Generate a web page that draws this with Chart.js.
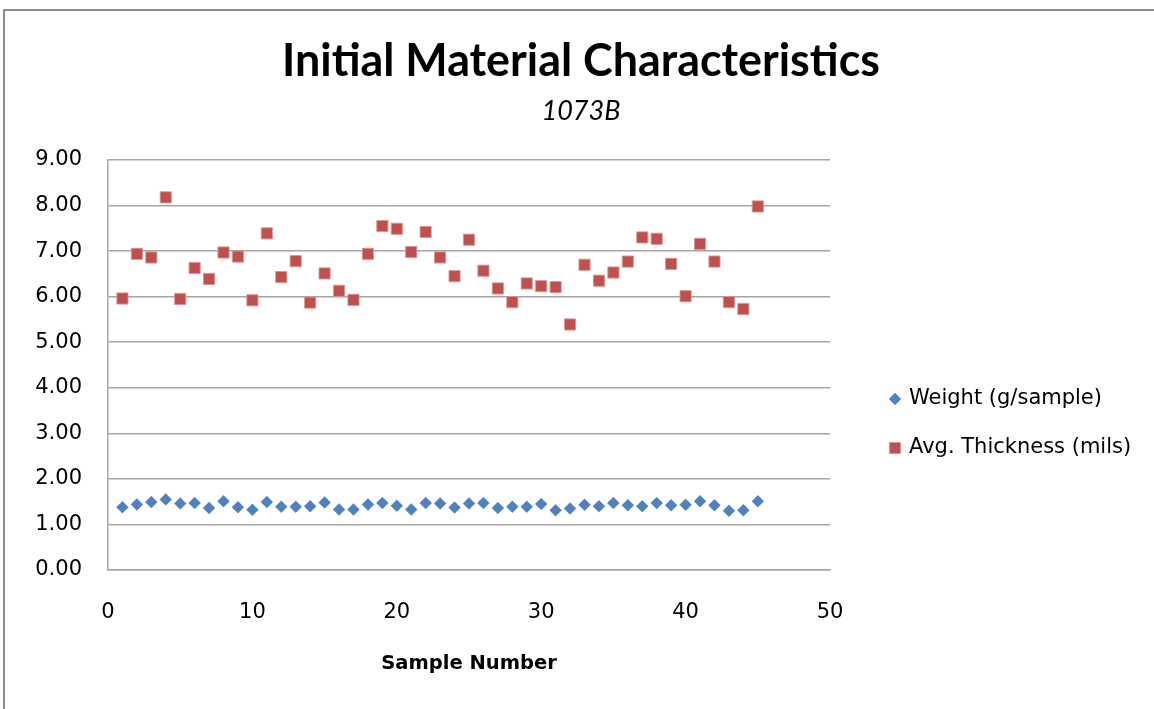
<!DOCTYPE html>
<html>
<head>
<meta charset="utf-8">
<script src="https://cdn.jsdelivr.net/npm/chart.js@4.4.1/dist/chart.umd.min.js"></script>
<style>
  html, body { margin: 0; padding: 0; background: #ffffff; overflow: hidden; }
  #wrap { position: relative; width: 1154px; height: 709px; background: #fff; }
  #frame { position: absolute; left: 3px; top: 9px; width: 1300px; height: 900px; border: 2px solid #8c8c8c; box-sizing: border-box; }
  canvas { position: absolute; left: 0; top: 0; }
</style>
</head>
<body>
<div id="wrap">
  <div id="frame"></div>
  <canvas id="c" width="1154" height="709"></canvas>
</div>
<script>
const chartTitle = 'Initial Material Characteristics';
const chartSubtitle = '1073B';
const xAxisTitle = 'Sample Number';
const seriesNames = ['Weight (g/sample)', 'Avg. Thickness (mils)'];

const sampleNumbers = [1,2,3,4,5,6,7,8,9,10,11,12,13,14,15,16,17,18,19,20,21,22,23,24,25,26,27,28,29,30,31,32,33,34,35,36,37,38,39,40,41,42,43,44,45];
const weightValues = [1.38,1.44,1.49,1.55,1.46,1.47,1.36,1.51,1.38,1.32,1.49,1.39,1.39,1.40,1.48,1.33,1.33,1.44,1.47,1.41,1.33,1.47,1.46,1.37,1.46,1.47,1.36,1.39,1.39,1.45,1.31,1.35,1.43,1.40,1.47,1.42,1.40,1.47,1.42,1.43,1.51,1.42,1.30,1.31,1.51];
const thicknessValues = [5.96,6.94,6.86,8.18,5.95,6.63,6.39,6.97,6.88,5.92,7.39,6.43,6.78,5.87,6.51,6.13,5.93,6.94,7.55,7.49,6.98,7.42,6.86,6.45,7.25,6.57,6.18,5.88,6.29,6.23,6.21,5.39,6.70,6.35,6.53,6.77,7.30,7.27,6.72,6.01,7.16,6.77,5.88,5.73,7.98];

const xTickValues = [0,10,20,30,40,50];
const yTickValues = [0,1,2,3,4,5,6,7,8,9];

const blue = '#4F81BD';
const red = '#C0504D';

const weightPoints = sampleNumbers.map((x, i) => ({ x: x, y: weightValues[i] }));
const thicknessPoints = sampleNumbers.map((x, i) => ({ x: x, y: thicknessValues[i] }));

const titlePlugin = {
  id: 'excelTitle',
  afterDraw(chart) {
    const ctx = chart.ctx;
    ctx.save();
    ctx.fillStyle = '#000';
    ctx.textAlign = 'center';
    ctx.textBaseline = 'alphabetic';
    ctx.font = 'bold 45px Lato';
    ctx.fillText(chartTitle, 581, 76, 598);
    ctx.font = 'italic 27px Lato';
    ctx.fillText(chartSubtitle, 581, 120, 82);
    ctx.restore();
  }
};

const legendPlugin = {
  id: 'excelLegend',
  afterDraw(chart) {
    const ctx = chart.ctx;
    const rows = [399, 448];
    ctx.save();
    chart.data.datasets.forEach((ds, i) => {
      const y = rows[i];
      ctx.fillStyle = ds.backgroundColor;
      ctx.strokeStyle = ds.borderColor;
      ctx.lineWidth = ds.pointBorderWidth;
      ctx.beginPath();
      if (ds.pointStyle === 'rectRot') {
        const r = ds.pointRadius;
        ctx.moveTo(895 - r, y); ctx.lineTo(895, y - r); ctx.lineTo(895 + r, y); ctx.lineTo(895, y + r); ctx.closePath();
      } else {
        const s = ds.pointRadius * Math.SQRT1_2;
        ctx.rect(895 - s, y - s, 2 * s, 2 * s);
      }
      ctx.fill();
      if (ds.pointBorderWidth) ctx.stroke();
      ctx.fillStyle = '#000';
      ctx.font = '21px "DejaVu Sans"';
      ctx.textAlign = 'left';
      ctx.textBaseline = 'middle';
      ctx.fillText(ds.label, 909, y);
    });
    ctx.restore();
  }
};

new Chart(document.getElementById('c'), {
  type: 'scatter',
  data: {
    datasets: [
      {
        label: seriesNames[0],
        data: weightPoints,
        pointStyle: 'rectRot',
        pointRadius: 6,
        pointHoverRadius: 6,
        backgroundColor: blue,
        borderColor: 'rgba(79,129,189,0.7)',
        pointBorderWidth: 0.5
      },
      {
        label: seriesNames[1],
        data: thicknessPoints,
        pointStyle: 'rect',
        pointRadius: 7.9,
        pointHoverRadius: 7.9,
        backgroundColor: red,
        borderColor: 'rgba(220,150,150,0.9)',
        pointBorderWidth: 1
      }
    ]
  },
  options: {
    responsive: false,
    animation: false,
    devicePixelRatio: 1,
    layout: { padding: { top: 160, right: 324, left: 0, bottom: 0 } },
    plugins: {
      legend: { display: false },
      title: { display: false },
      tooltip: { enabled: false }
    },
    scales: {
      x: {
        type: 'linear',
        min: 0,
        max: 50,
        afterBuildTicks(scale) { scale.ticks = xTickValues.map(v => ({ value: v })); },
        afterFit(scale) { scale.height = 139; },
        grid: { display: false, drawTicks: false, tickLength: 0 },
        border: { display: true, color: '#a6a6a6', width: 1.5 },
        ticks: {
          color: '#000',
          font: { family: 'DejaVu Sans', size: 21 },
          padding: 30,
          maxRotation: 0,
          autoSkip: false
        },
        title: {
          display: true,
          text: xAxisTitle,
          color: '#000',
          font: { family: 'DejaVu Sans', size: 19.5, weight: 'bold' },
          padding: { top: 0, bottom: 33 }
        }
      },
      y: {
        type: 'linear',
        min: 0,
        max: 9,
        afterBuildTicks(scale) { scale.ticks = yTickValues.map(v => ({ value: v })); },
        afterFit(scale) { scale.width = 108; },
        grid: { display: true, color: '#a6a6a6', lineWidth: 1.5, drawTicks: false, tickLength: 0 },
        border: { display: true, color: '#a6a6a6', width: 1.5 },
        ticks: {
          color: '#000',
          font: { family: 'DejaVu Sans', size: 21 },
          padding: 26,
          autoSkip: false,
          callback: v => Number(v).toFixed(2)
        }
      }
    }
  },
  plugins: [titlePlugin, legendPlugin]
});
</script>
</body>
</html>
